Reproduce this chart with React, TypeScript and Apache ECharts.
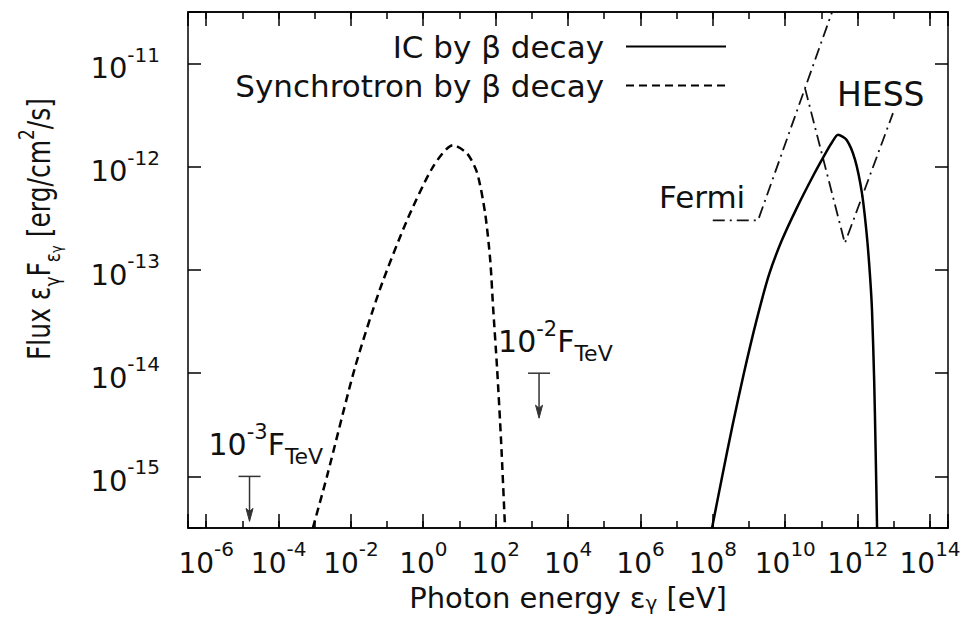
import React, { useEffect, useRef } from 'react';
import * as echarts from 'echarts';

// All values are log10: photon energy [eV] and flux [erg/cm^2/s]
const synchLogE = [-3.05, -2.66, -1.89, -1.2, -0.45, 0.27, 0.82, 1.21, 1.49, 1.71, 1.85, 1.93, 2.04, 2.15, 2.26];
const synchLogF = [-15.5, -15.0, -13.95, -13.19, -12.52, -12.0, -11.79, -11.87, -12.06, -12.45, -12.9, -13.36, -13.95, -14.65, -15.5];

const icLogE = [7.98, 8.26, 8.55, 8.86, 9.2, 9.55, 9.9, 10.32, 10.8, 11.13, 11.3, 11.46, 11.7, 11.93, 12.12, 12.25, 12.34, 12.4, 12.46, 12.5, 12.54];
const icLogF = [-15.5, -15.0, -14.5, -14.0, -13.5, -13.05, -12.72, -12.4, -12.07, -11.86, -11.76, -11.69, -11.74, -11.93, -12.25, -12.64, -13.03, -13.39, -14.07, -14.74, -15.5];

const fermiLogE = [8.0, 9.25, 11.5];
const fermiLogF = [-12.52, -12.52, -10.3];

const hessLogE = [10.55, 11.65, 12.98];
const hessLogF = [-11.24, -12.74, -11.48];

// upper limits (10^-3 F_TeV, 10^-2 F_TeV)
const ulLogE = [-4.8, 3.2];
const ulLogF = [-15, -14];
const ulExponents = ['-3', '-2'];

const seriesNames = ['IC by β decay', 'Synchrotron by β decay'];

const X_MIN = -6.5;
const X_MAX = 14.5;
const Y_MIN = -15.5;
const Y_MAX = -10.5;

const FONT = "'DejaVu Sans', sans-serif";
const INK = '#111';

const pairs = (xs: number[], ys: number[]) => xs.map((x, i) => [x, ys[i]]);

const isInt = (v: number) => Math.abs(v - Math.round(v)) < 1e-6;

const makeTickRich = (size: number) => ({
  h: { fontFamily: FONT, fontSize: 1, lineHeight: 38, verticalAlign: 'middle', color: INK },
  b: { fontFamily: FONT, fontSize: size, lineHeight: 24, verticalAlign: 'bottom', color: INK },
  s: { fontFamily: FONT, fontSize: 20, lineHeight: 12, verticalAlign: 'top', color: INK },
});

const tickFormatter = (v: number) => (isInt(v) ? `{h| }{b|10}{s|${Math.round(v)}}` : '');

const axisLineStyle = { show: true, onZero: false, lineStyle: { color: '#000', width: 1.5 } };

const xBase = {
  type: 'value',
  min: X_MIN,
  max: X_MAX,
  splitLine: { show: false },
  axisLine: axisLineStyle,
};

const yBase = {
  type: 'value',
  min: Y_MIN,
  max: Y_MAX,
  splitNumber: 5,
  splitLine: { show: false },
  axisLine: axisLineStyle,
  axisTick: { show: true, inside: true, length: 13, lineStyle: { color: '#000', width: 1.5 } },
};

const annRich = {
  n: { fontFamily: FONT, fontSize: 30, lineHeight: 46, verticalAlign: 'middle', color: INK },
  sup: { fontFamily: FONT, fontSize: 21, lineHeight: 21, verticalAlign: 'top', color: INK },
  sub: { fontFamily: FONT, fontSize: 22, lineHeight: 22, verticalAlign: 'bottom', color: INK },
};

const option: any = {
  animation: false,
  backgroundColor: '#fff',
  textStyle: { fontFamily: FONT },
  grid: { left: 188, right: 19, top: 12, bottom: 110, show: false },
  xAxis: [
    {
      ...xBase,
      position: 'bottom',
      splitNumber: 10,
      axisTick: { show: true, inside: true, length: 14, lineStyle: { color: '#000', width: 1.5 } },
      axisLabel: { show: true, margin: 11, formatter: tickFormatter, rich: makeTickRich(28) },
    },
    {
      ...xBase,
      position: 'bottom',
      splitNumber: 20,
      axisTick: { show: true, inside: true, length: 7, lineStyle: { color: '#000', width: 1.5 } },
      axisLabel: { show: false },
    },
    {
      ...xBase,
      position: 'top',
      splitNumber: 10,
      axisTick: { show: true, inside: true, length: 14, lineStyle: { color: '#000', width: 1.5 } },
      axisLabel: { show: false },
    },
    {
      ...xBase,
      position: 'top',
      splitNumber: 20,
      axisTick: { show: true, inside: true, length: 7, lineStyle: { color: '#000', width: 1.5 } },
      axisLabel: { show: false },
    },
  ],
  yAxis: [
    {
      ...yBase,
      position: 'left',
      axisLabel: { show: true, margin: 28, formatter: tickFormatter, rich: makeTickRich(29) },
    },
    {
      ...yBase,
      position: 'right',
      axisLabel: { show: false },
    },
  ],
  legend: {
    data: seriesNames,
    orient: 'vertical',
    align: 'right',
    right: 240,
    top: 31,
    padding: 0,
    itemGap: 8,
    itemWidth: 100,
    itemHeight: 14,
    selectedMode: false,
    itemStyle: { opacity: 0 },
    textStyle: { fontFamily: FONT, fontSize: 31, lineHeight: 31, color: INK, padding: [0, 17, 0, 0] },
  },
  graphic: [
    {
      type: 'text',
      x: 837,
      y: 94,
      style: { text: 'HESS', font: `33px ${FONT}`, fill: INK, verticalAlign: 'middle', textVerticalAlign: 'middle' },
    },
    {
      type: 'text',
      x: 659,
      y: 197,
      style: { text: 'Fermi', font: `31px ${FONT}`, fill: INK, verticalAlign: 'middle', textVerticalAlign: 'middle' },
    },
    {
      type: 'text',
      x: 568,
      y: 598,
      style: {
        text: '{n|Photon energy ε}{sub|γ}{n| [eV]}',
        align: 'center',
        textAlign: 'center',
        verticalAlign: 'middle',
        textVerticalAlign: 'middle',
        fill: INK,
        rich: {
          n: { fontFamily: FONT, fontSize: 29, lineHeight: 30, verticalAlign: 'middle', color: INK },
          sub: { fontFamily: FONT, fontSize: 20, lineHeight: 18, verticalAlign: 'bottom', color: INK },
        },
      },
    },
    {
      type: 'text',
      x: 40,
      y: 229,
      rotation: Math.PI / 2,
      scaleY: 1.25,
      style: {
        text: '{n|Flux ε}{sub|γ}{n|F}{sub|ε}{ss|γ}{n| [erg/cm}{sup|2}{n|/s]}',
        align: 'center',
        textAlign: 'center',
        verticalAlign: 'middle',
        textVerticalAlign: 'middle',
        fill: INK,
        rich: {
          n: { fontFamily: FONT, fontSize: 25, lineHeight: 38, verticalAlign: 'middle', color: INK },
          sub: { fontFamily: FONT, fontSize: 17, lineHeight: 24, verticalAlign: 'bottom', color: INK },
          ss: { fontFamily: FONT, fontSize: 13, lineHeight: 13, verticalAlign: 'bottom', color: INK },
          sup: { fontFamily: FONT, fontSize: 17, lineHeight: 17, verticalAlign: 'top', color: INK },
        },
      },
    },
  ],
  series: [
    {
      name: seriesNames[0],
      type: 'line',
      data: pairs(icLogE, icLogF),
      xAxisIndex: 0,
      yAxisIndex: 0,
      symbol: 'none',
      showSymbol: false,
      smooth: 0.25,
      clip: true,
      silent: true,
      lineStyle: { color: '#000', width: 2.5, type: 'solid' },
      z: 3,
    },
    {
      name: seriesNames[1],
      type: 'line',
      data: pairs(synchLogE, synchLogF),
      xAxisIndex: 0,
      yAxisIndex: 0,
      symbol: 'none',
      showSymbol: false,
      smooth: 0.25,
      clip: true,
      silent: true,
      lineStyle: { color: '#000', width: 2.5, type: [8, 5] },
      z: 3,
    },
    {
      name: 'Fermi',
      type: 'line',
      data: pairs(fermiLogE, fermiLogF),
      xAxisIndex: 0,
      yAxisIndex: 0,
      symbol: 'none',
      showSymbol: false,
      clip: true,
      silent: true,
      lineStyle: { color: '#111', width: 1.8, type: [12, 5, 2, 5] },
      z: 2,
    },
    {
      name: 'HESS',
      type: 'line',
      data: pairs(hessLogE, hessLogF),
      xAxisIndex: 0,
      yAxisIndex: 0,
      symbol: 'none',
      showSymbol: false,
      clip: true,
      silent: true,
      lineStyle: { color: '#111', width: 1.8, type: [12, 5, 2, 5] },
      z: 2,
    },
    {
      name: 'upper limits',
      type: 'custom',
      coordinateSystem: 'cartesian2d',
      xAxisIndex: 0,
      yAxisIndex: 0,
      silent: true,
      z: 4,
      data: ulLogE.map((e, i) => [e, ulLogF[i]]),
      renderItem: (params: any, api: any) => {
        const p = api.coord([api.value(0), api.value(1)]);
        const x = p[0];
        const y = p[1];
        const exp = ulExponents[params.dataIndex];
        return {
          type: 'group',
          children: [
            { type: 'line', shape: { x1: x - 11, y1: y, x2: x + 11, y2: y }, style: { stroke: '#333', lineWidth: 1.5 } },
            { type: 'line', shape: { x1: x, y1: y, x2: x, y2: y + 36 }, style: { stroke: '#333', lineWidth: 1.5 } },
            {
              type: 'polygon',
              shape: { points: [[x - 3.5, y + 32], [x, y + 45], [x + 3.5, y + 32], [x, y + 35]] },
              style: { fill: '#333', stroke: '#333', lineWidth: 1 },
            },
            {
              type: 'text',
              x: x - 41,
              y: y - 55,
              style: {
                text: `{n|10}{sup|${exp}}{n|F}{sub|TeV}`,
                rich: annRich,
                fill: INK,
                align: 'left',
                textAlign: 'left',
                verticalAlign: 'top',
                textVerticalAlign: 'top',
              },
            },
          ],
        };
      },
    },
  ],
};

export default function App() {
  const ref = useRef<HTMLDivElement>(null);
  useEffect(() => {
    document.body.style.margin = '0';
    if (!ref.current) return;
    const chart = echarts.init(ref.current, undefined, { renderer: 'svg' });
    chart.setOption(option);
    return () => {
      chart.dispose();
    };
  }, []);
  return <div ref={ref} style={{ width: 967, height: 638 }} />;
}
